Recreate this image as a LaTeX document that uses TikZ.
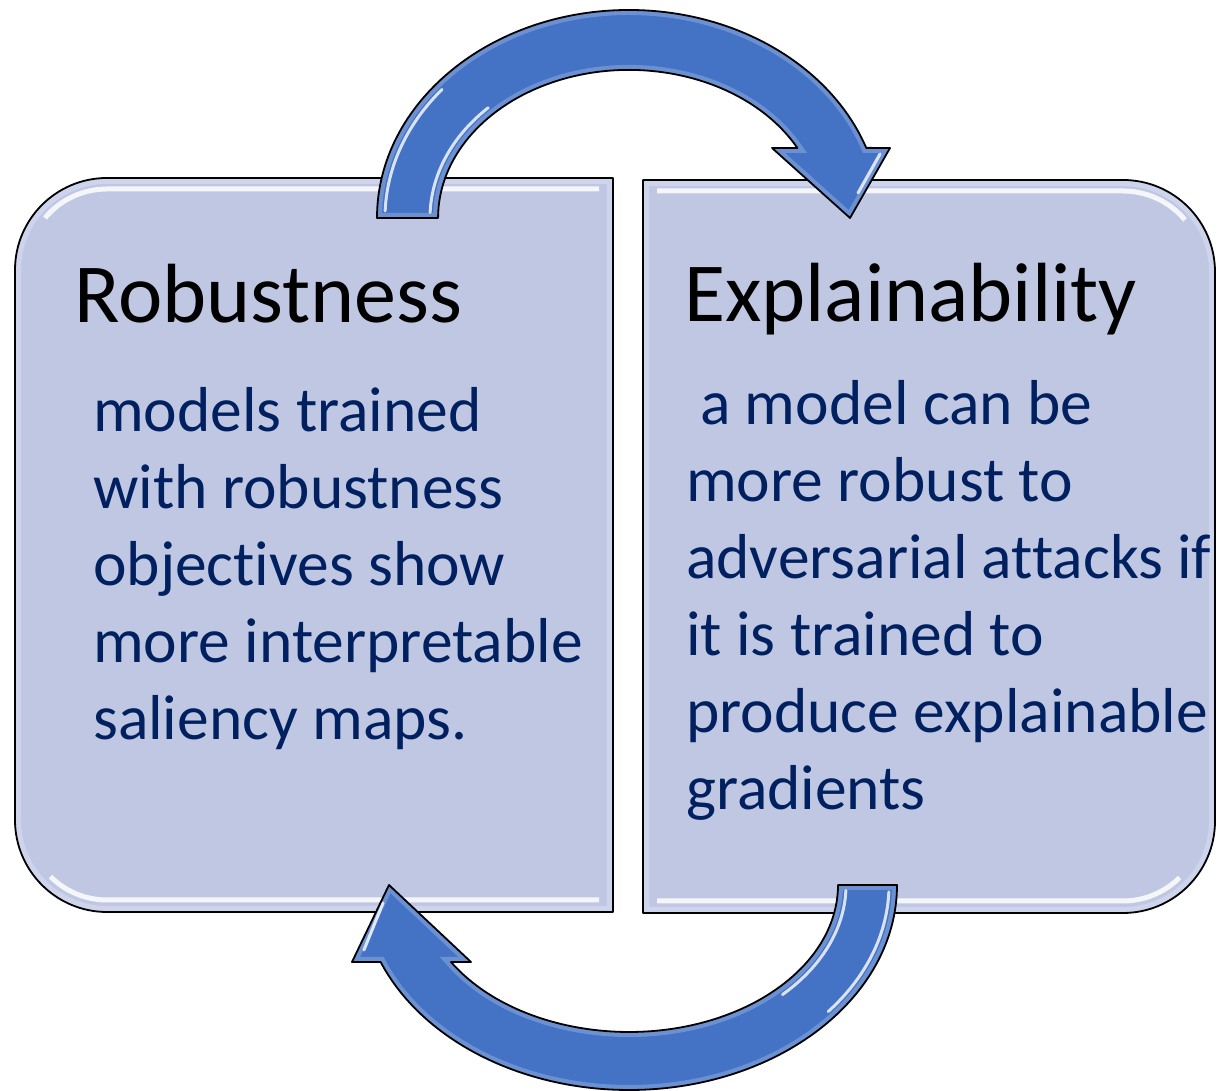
\documentclass[tikz,border=0pt]{standalone}
\usepackage{fontspec}
\setmainfont{Carlito}[Ligatures=NoCommon]

\definecolor{boxfill}{HTML}{BFC7E3}
\definecolor{boxrim}{HTML}{CDD4EC}
\definecolor{arrowblue}{HTML}{4472C4}
\definecolor{arrowrim}{HTML}{88A6DE}
\definecolor{bodyblue}{HTML}{002060}

% Outlines of the two panels (left one rounded on the left, right one on the right)
\def\leftpanel{(613,913) -- (107,913) arc[start angle=90,end angle=180,radius=92]
  -- (15,271) arc[start angle=180,end angle=270,radius=92] -- (613,179) -- cycle}
\def\rightpanel{(643,911) -- (1123,911) arc[start angle=90,end angle=0,radius=92]
  -- (1215,270) arc[start angle=0,end angle=-90,radius=92] -- (643,178) -- cycle}

% Curved block arrows over the top and under the bottom
\def\toparrow{(377,873) arc[start angle=180,end angle=19.7,x radius=252,y radius=208]
  -- (890,943) -- (850,873) -- (772,943) -- (797.4,943)
  arc[start angle=28.2,end angle=180,x radius=191,y radius=148] -- cycle}
\def\botarrow{(897,206) arc[start angle=0,end angle=-157.94,x radius=268,y radius=205]
  -- (352,129) -- (389,206) -- (471,129) -- (451,129)
  arc[start angle=-148.4,end angle=0,x radius=209,y radius=147] -- cycle}

\begin{document}
\begin{tikzpicture}[x=1pt,y=1pt,
  outline/.style={draw=black, line width=1.8pt, line join=round},
  panelrim/.style={draw=boxrim, line width=12pt},
  arrowedge/.style={draw=arrowrim, line width=10pt, opacity=0.6},
  shine/.style={draw=white, line width=5pt, opacity=0.85},
  gloss/.style={draw=white, line width=3pt, opacity=0.8, line cap=round},
  headline/.style={anchor=base west, inner sep=0pt, font=\fontsize{84}{100}\selectfont, text=black},
  bodytext/.style={anchor=base west, inner sep=0pt, align=left, font=\fontsize{63.5}{77}\selectfont, text=bodyblue}]

\useasboundingbox (0,0) rectangle (1220,1091);

% ---- left panel: Robustness ----
\fill[boxfill] \leftpanel;
\begin{scope}
  \clip \leftpanel;
  \draw[panelrim] \leftpanel;
  \draw[shine] (599,902) -- (107,902) arc[start angle=90,end angle=140,radius=81];
  \draw[shine] (599,191) -- (107,191) arc[start angle=270,end angle=225,radius=80];
  \node[headline] (robtitle) at (74,768) {Robustness};
  % multi-line text is anchored at the baseline of its last line
  \node[bodytext] (robtext) at (93,351) {models trained\\with robustness\\objectives show\\more interpretable\\saliency maps.};
\end{scope}
\draw[outline] \leftpanel;

% ---- right panel: Explainability ----
\fill[boxfill] \rightpanel;
\begin{scope}
  \clip \rightpanel;
  \draw[panelrim] \rightpanel;
  \draw[shine] (657,900) -- (1123,900) arc[start angle=90,end angle=40,radius=81];
  \draw[shine] (657,190) -- (1123,190) arc[start angle=-90,end angle=-45,radius=80];
  \node[headline] (exptitle) at (684,769) {Explainability};
  \node[bodytext] (exptext) at (686,281) {\hspace*{14pt}a model can be\\more robust to\\adversarial attacks if\\it is trained to\\produce explainable\\gradients};
\end{scope}
\draw[outline] \rightpanel;

% ---- upper arrow: Robustness -> Explainability ----
\fill[arrowblue] \toparrow;
\begin{scope}
  \clip \toparrow;
  \draw[arrowedge] \toparrow;
  \draw[gloss] (629,873) ++(178:244 and 200) arc[start angle=178,end angle=140,x radius=244,y radius=200];
  \draw[gloss] (629,873) ++(178:199 and 156) arc[start angle=178,end angle=135,x radius=199,y radius=156];
  \draw[gloss] (880,937) -- (858,898);
\end{scope}
\draw[outline] \toparrow;

% ---- lower arrow: Explainability -> Robustness ----
\fill[arrowblue] \botarrow;
\begin{scope}
  \clip \botarrow;
  \draw[arrowedge] \botarrow;
  \draw[gloss] (629,206) ++(-2:260 and 197) arc[start angle=-2,end angle=-40,x radius=260,y radius=197];
  \draw[gloss] (629,206) ++(-2:217 and 155) arc[start angle=-2,end angle=-45,x radius=217,y radius=155];
  \draw[gloss] (364,141) -- (383,188);
\end{scope}
\draw[outline] \botarrow;
\end{tikzpicture}
\end{document}
